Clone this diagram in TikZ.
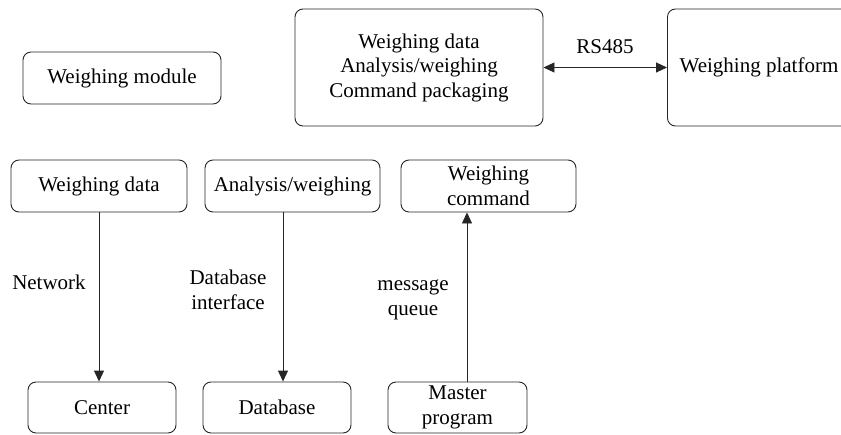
\documentclass[tikz,border=0pt]{standalone}
\usepackage{fontspec}
\setmainfont{Liberation Serif}
\usetikzlibrary{arrows.meta}
\begin{document}
\begin{tikzpicture}[x=1pt,y=-1pt,
  box/.style={draw=black!85, line width=0.9pt, rounded corners=8pt, align=center,
    inner sep=0pt, font=\fontsize{21}{24.5}\selectfont},
  lbl/.style={align=center, inner sep=0pt, font=\fontsize{21}{25}\selectfont},
  arr/.style={draw=black!85, line width=0.9pt, -{Triangle[length=11pt,width=10pt]}},
  darr/.style={draw=black!85, line width=0.9pt, {Triangle[length=11pt,width=10pt]}-{Triangle[length=11pt,width=10pt]}}]
\useasboundingbox (0,0) rectangle (841,434);
\node[box, minimum width=198pt, minimum height=52pt] (wm) at (122,78) {Weighing module};
\node[box, minimum width=248pt, minimum height=117pt] (top) at (419,67.5) {Weighing data\\Analysis/weighing\\Command packaging};
\node[box, minimum width=184pt, minimum height=117pt, anchor=west] (wp) at (667,67.5) {};
\node[lbl] (wpt) at (759,67) {Weighing platform};
\draw[darr] (top.east) -- (wp.west);
\node[lbl] (rs) at (605,47) {RS485};

\node[box, minimum width=176pt, minimum height=52pt] (wd) at (99,186) {Weighing data};
\node[box, minimum width=175pt, minimum height=52pt] (aw) at (292.5,186) {Analysis/weighing};
\node[box, minimum width=175pt, minimum height=52pt] (wc) at (488.5,186) {Weighing\\command};
\node[box, minimum width=148pt, minimum height=51pt] (ce) at (102,407.5) {Center};
\node[box, minimum width=148pt, minimum height=51pt] (db) at (277,407.5) {Database};
\node[box, minimum width=139pt, minimum height=51pt] (mp) at (457.5,407.5) {Master\\program};

\draw[arr] (wd.south) -- (wd.south |- ce.north);
\draw[arr] ([xshift=-9.5pt]aw.south) -- ([xshift=-9.5pt]aw.south |- db.north);
\draw[arr] ([xshift=9.5pt]mp.north) -- ([xshift=9.5pt]mp.north |- wc.south);

\node[lbl] (nw) at (49,282) {Network};
\node[lbl] (dbi) at (228,290) {Database\\interface};
\node[lbl] (mq) at (413,300) {message\\queue};
\end{tikzpicture}
\end{document}
